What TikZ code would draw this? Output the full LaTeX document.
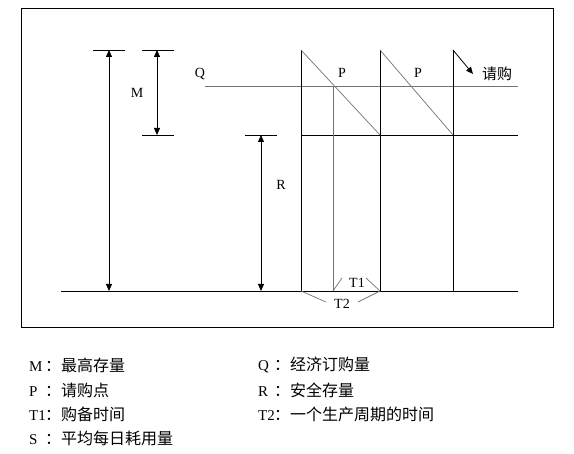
\documentclass[tikz,border=0pt]{standalone}
\usepackage{fontspec}
\setmainfont{Liberation Serif}
\newfontfamily\cjk{Noto Sans CJK SC}
\usetikzlibrary{arrows.meta, positioning}
\newcommand{\legkey}[1]{\makebox[16pt][l]{\rmfamily\fontsize{15}{16}\selectfont #1}：}

\begin{document}
\begin{tikzpicture}[x=1pt, y=-1pt,
  every node/.style={font=\fontsize{14}{16}\selectfont, inner sep=0pt},
  blk/.style={draw=black, line width=0.8pt},
  gry/.style={draw=black!55, line width=0.7pt},
  dim/.style={blk, {Triangle[length=7pt,width=6pt]}-{Triangle[length=7pt,width=6pt]}},
  arr/.style={blk, -{Triangle[length=7pt,width=6pt]}},
  legend/.style={anchor=west, font=\cjk\fontsize{16}{17}\selectfont},
]
\useasboundingbox (0,0) rectangle (574,454);
\draw[line width=0.6pt] (21,8) rectangle (553,327);

% levels
\coordinate (base0) at (61,291);
\coordinate (base1) at (518,291);
\draw[blk] (base0) -- (base1);
\draw[blk] (93,50) -- (125,50);
\draw[blk] (142,50) -- (174,50);
\draw[blk] (142,135) -- (174,135);
\draw[blk] (245,135) -- (277,135);

% dimension arrows
\coordinate (mtop) at (109,50);   \coordinate (mbot) at (109,291);
\coordinate (qtop) at (157,50);   \coordinate (qbot) at (157,135);
\coordinate (rtop) at (261,135);  \coordinate (rbot) at (261,291);
\draw[dim] (mtop) -- (mbot);
\draw[dim] (qtop) -- (qbot);
\draw[dim] (rtop) -- (rbot);
\node (M) at (137,93) {M};
\node (R) at (281,185) {R};
\node (Q) at (200,74) {Q};

% reorder point and safety stock lines
\coordinate (q0) at (205,86);  \coordinate (q1) at (518,86);
\coordinate (s0) at (301,135); \coordinate (s1) at (518,135);
\draw[gry] (q0) -- (q1);
\draw[blk] (s0) -- (s1);

% cycles
\coordinate (a0) at (301,50);  \coordinate (a1) at (301,291);
\coordinate (b0) at (380,50);  \coordinate (b1) at (380,291);
\coordinate (c0) at (453,50);  \coordinate (c1) at (453,291);
\coordinate (b2) at (380,135); \coordinate (c2) at (453,135);
\draw[blk] (a0) -- (a1);
\draw[blk] (b0) -- (b1);
\draw[blk] (c0) -- (c1);
\draw[gry] (a0) -- (b2);
\draw[gry] (b0) -- (c2);
\coordinate (cend) at (473,74);
\draw[arr] (c0) -- (cend);
\coordinate (p0) at (333,86); \coordinate (p1) at (333,291);
\draw[gry] (p0) -- (p1);
\node (P1) at (342,73) {P};
\node (P2) at (418,73) {P};
\node[font=\cjk\fontsize{15}{17}\selectfont] (buy) at (497,74) {请购};

% lead time and cycle
\node (T1) at (357,283) {T1};
\node (T2) at (342,304) {T2};
\draw[gry] (p1) -- (342,278);
\draw[gry] (366,278) -- (b1);
\draw[gry] (a1) -- (326,302);
\draw[gry] (358,302) -- (b1);

% legend
\node[legend] (lm)  at (29,365)  {\legkey{M}最高存量};
\node[legend] (lq)  at (258,365) {\legkey{Q}经济订购量};
\node[legend] (lp)  at (29,390)  {\legkey{P}请购点};
\node[legend] (lr)  at (258,390) {\legkey{R}安全存量};
\node[legend] (lt1) at (29,414)  {\legkey{T1}购备时间};
\node[legend] (lt2) at (258,414) {\legkey{T2}一个生产周期的时间};
\node[legend] (ls)  at (29,438)  {\legkey{S}平均每日耗用量};
\end{tikzpicture}
\end{document}
